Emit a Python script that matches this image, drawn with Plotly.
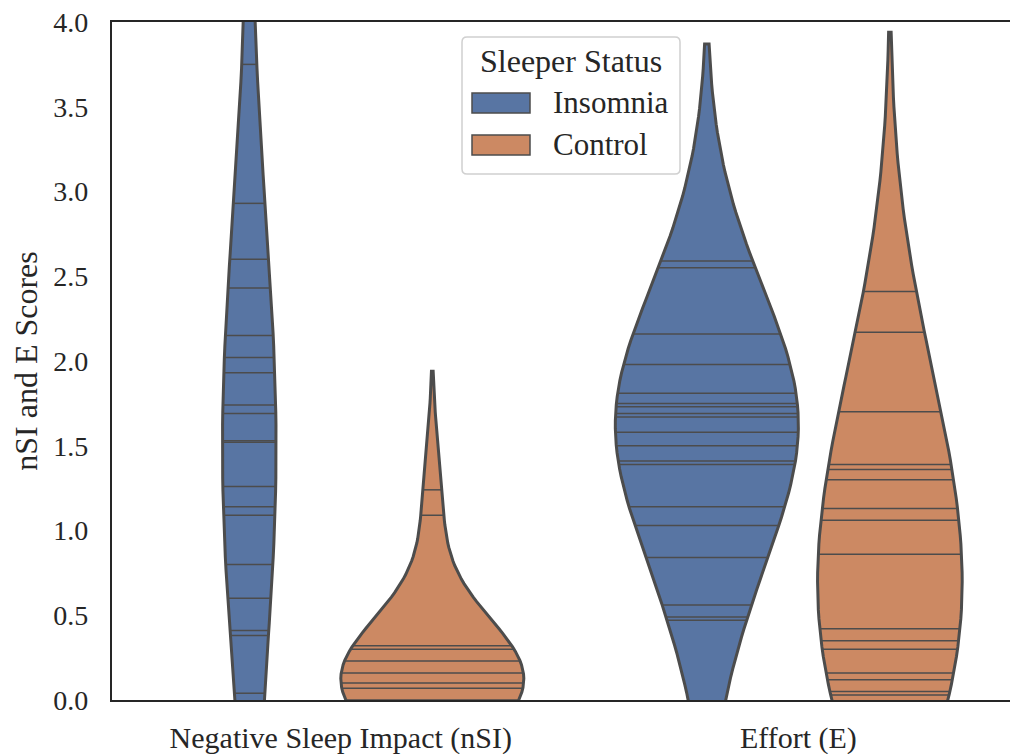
import numpy as np
import plotly.graph_objects as go

# ---- data (stick positions; coincident
#      observations are repeated) ----
categories = ["Negative Sleep Impact (nSI)", "Effort (E)"]
hues = ["Insomnia", "Control"]

insomnia_nsi = [0.04, 0.38, 0.41, 0.60, 0.80, 1.09, 1.14, 1.26, 1.52, 1.53,
                1.69, 1.74, 1.93, 2.02, 2.15, 2.43, 2.60, 2.93, 3.75]
control_nsi = [0.00, 0.00, 0.00, 0.00, 0.00, 0.00, 0.07, 0.07, 0.07, 0.10, 0.10,
               0.10, 0.16, 0.16, 0.16, 0.23, 0.23, 0.23, 0.30, 0.30, 0.32,
               1.09, 1.24]
insomnia_e = [0.47, 0.47, 0.49, 0.56, 0.84, 0.84, 1.03, 1.14,
              1.39, 1.39, 1.41, 1.41, 1.50, 1.50, 1.58, 1.58, 1.67, 1.67,
              1.69, 1.69, 1.73, 1.73, 1.75, 1.75, 1.81, 1.81,
              1.98, 1.98, 1.98, 2.16, 2.55, 2.55, 2.59, 2.59]
control_e = [0.03, 0.05, 0.12, 0.12, 0.16, 0.30, 0.30, 0.35, 0.42, 0.86, 1.06,
             1.13, 1.30, 1.36, 1.39, 1.39, 1.70, 2.17, 2.41]

data = {
    (0, 0): insomnia_nsi, (0, 1): control_nsi,
    (1, 0): insomnia_e, (1, 1): control_e,
}

yticks = [0.0, 0.5, 1.0, 1.5, 2.0, 2.5, 3.0, 3.5, 4.0]
ytick_text = ["0.0", "0.5", "1.0", "1.5", "2.0", "2.5", "3.0", "3.5", "4.0"]

# ---- style / kde settings ----
kde_bandwidth = {(0, 0): 1.0, (0, 1): 0.35, (1, 0): 0.64, (1, 1): 0.765}
kde_cut = 2.0
gridsize = 100
fills = ["#5875a3", "#cc8963"]
gray = "#4c4c4c"
ink = "#262626"
font_family = "Liberation Serif, Times New Roman, serif"
dwidth = 0.2
offsets = [-0.2, 0.2]

# page body has an 8px margin, so the figure is drawn 8px in from the corner
OFF = 8
W, H = 1018 - OFF, 754 - OFF
L, R, T, B = 112 - OFF, 1018 - OFF, 22 - OFF, 700 - OFF
PW, PH = R - L, B - T


def px(x):  # reference-pixel x -> paper
    return (x - OFF - L) / PW


def py(y):  # reference-pixel y -> paper
    return (B - (y - OFF)) / PH


def kde(vals, grid, bw):
    v = np.asarray(vals, float)
    z = (grid[:, None] - v[None, :]) / bw
    return np.exp(-0.5 * z ** 2).sum(axis=1) / (v.size * bw * np.sqrt(2 * np.pi))


fig = go.Figure()

for ci in range(len(categories)):
    supports, dens = [], []
    for hi in range(len(hues)):
        vals = np.asarray(data[(ci, hi)], float)
        bw = kde_bandwidth[(ci, hi)]
        s = np.linspace(vals.min() - kde_cut * bw, vals.max() + kde_cut * bw, gridsize)
        supports.append(s)
        dens.append(kde(vals, s, bw))
    gmax = max(d.max() for d in dens)
    for hi in range(len(hues)):
        s = supports[hi]
        d = dens[hi] / gmax * dwidth
        c = ci + offsets[hi]
        xs = np.concatenate([c - d, (c + d)[::-1], [c - d[0]]])
        ys = np.concatenate([s, s[::-1], [s[0]]])
        fig.add_trace(go.Scatter(
            x=xs, y=ys, mode="lines", fill="toself", fillcolor=fills[hi],
            line=dict(color=gray, width=3), showlegend=False, hoverinfo="skip"))
        vals = np.unique(np.asarray(data[(ci, hi)], float))
        sx, sy = [], []
        for v in vals:
            w = np.interp(v, s, d)
            sx += [c - w, c + w, None]
            sy += [v, v, None]
        fig.add_trace(go.Scatter(
            x=sx, y=sy, mode="lines", line=dict(color=gray, width=1.5),
            showlegend=False, hoverinfo="skip"))

# ---- legend drawn as layout shapes + text ----
bx0, bx1, by0, by1, r = px(462), px(680), py(174), py(37), 5
rx, ry = r / PW, r / PH
frame = (f"M {bx0 + rx},{by1} L {bx1 - rx},{by1} Q {bx1},{by1} {bx1},{by1 - ry} "
         f"L {bx1},{by0 + ry} Q {bx1},{by0} {bx1 - rx},{by0} "
         f"L {bx0 + rx},{by0} Q {bx0},{by0} {bx0},{by0 + ry} "
         f"L {bx0},{by1 - ry} Q {bx0},{by1} {bx0 + rx},{by1} Z")
shapes = [dict(type="path", xref="paper", yref="paper", path=frame,
               line=dict(color="#d0d0d0", width=1.5),
               fillcolor="rgba(255,255,255,0.85)", layer="above")]
annotations = [dict(text="Sleeper Status", xref="paper", yref="paper",
                    x=px(571), y=py(61), showarrow=False,
                    xanchor="center", yanchor="middle",
                    font=dict(size=32, color=ink, family=font_family))]
for hi, name in enumerate(hues):
    yc = [103, 145][hi]
    shapes.append(dict(type="rect", xref="paper", yref="paper",
                       x0=px(472), x1=px(530), y0=py(yc + 10), y1=py(yc - 10),
                       line=dict(color=gray, width=1.5), fillcolor=fills[hi],
                       layer="above"))
    annotations.append(dict(text=name, xref="paper", yref="paper",
                            x=px(551), y=py(yc), showarrow=False,
                            xanchor="left", yanchor="middle",
                            font=dict(size=31, color=ink, family=font_family)))

fig.update_layout(
    width=W, height=H,
    margin=dict(l=L, r=W - R, t=T, b=H - B),
    paper_bgcolor="white", plot_bgcolor="white",
    font=dict(family=font_family, size=30, color=ink),
    shapes=shapes, annotations=annotations,
    xaxis=dict(range=[-0.5, 1.48], tickmode="array", tickvals=[0, 1],
               ticktext=categories, showgrid=False, zeroline=False,
               showline=True, linecolor=ink, linewidth=2.3, mirror=True,
               ticks="", automargin=False, ticklabelstandoff=10,
               ticklabeloverflow="allow",
               tickfont=dict(size=30, color=ink, family=font_family)),
    yaxis=dict(range=[0, 4], tickmode="array", tickvals=yticks, ticktext=ytick_text,
               showgrid=False, zeroline=False, showline=True, linecolor=ink,
               linewidth=2.3, ticks="", ticklabelstandoff=16, automargin=False,
               ticklabeloverflow="allow",
               title=dict(text="nSI and E Scores", standoff=10,
                          font=dict(size=32, color=ink, family=font_family)),
               tickfont=dict(size=28, color=ink, family=font_family)),
    showlegend=False,
)

fig.write_html("out.html")
